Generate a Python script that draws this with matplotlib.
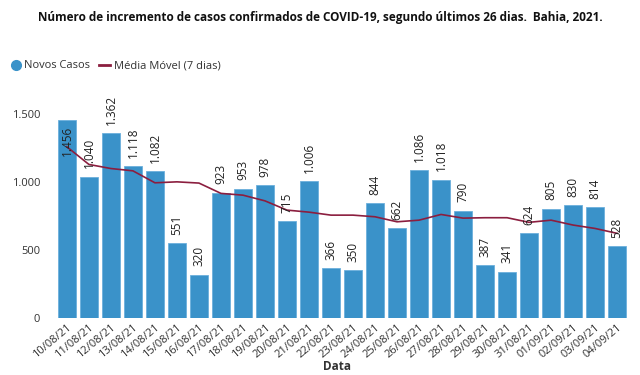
import matplotlib
matplotlib.use("Agg")
import matplotlib.pyplot as plt
from matplotlib.lines import Line2D
import numpy as np

plt.rcParams['font.family'] = ['Open Sans', 'DejaVu Sans']

datas = ["10/08/21", "11/08/21", "12/08/21", "13/08/21", "14/08/21", "15/08/21", "16/08/21",
         "17/08/21", "18/08/21", "19/08/21", "20/08/21", "21/08/21", "22/08/21", "23/08/21",
         "24/08/21", "25/08/21", "26/08/21", "27/08/21", "28/08/21", "29/08/21", "30/08/21",
         "31/08/21", "01/09/21", "02/09/21", "03/09/21", "04/09/21"]
novos_casos = [1456, 1040, 1362, 1118, 1082, 551, 320, 923, 953, 978, 715, 1006, 366, 350,
               844, 662, 1086, 1018, 790, 387, 341, 624, 805, 830, 814, 528]
media_movel = [1260, 1130, 1100, 1083, 995, 1002, 993, 917, 904, 862, 794, 779, 757, 757,
               745, 708, 720, 762, 735, 738, 738, 704, 720, 684, 659, 623]

def fmt(v):
    return f"{v:,}".replace(",", ".")

W, H = 640, 375
fig = plt.figure(figsize=(6.4, 3.75), dpi=100)
ax = fig.add_axes([57 / W, 1 - 318 / H, (627 - 57) / W, (318 - 87) / H])

x = np.arange(len(datas))
bar_color = "#3a92c9"
line_color = "#8b1e3f"
ax.bar(x, novos_casos, width=0.82, color=bar_color, edgecolor="#6cb0dc", linewidth=0.6, zorder=2)
ax.plot(x, media_movel, color=line_color, linewidth=1.2, zorder=3)

for xi, v in zip(x, novos_casos):
    if v > 1400:
        ax.annotate(fmt(v), (xi, v), xytext=(0, -4), textcoords="offset points",
                    rotation=90, ha="center", va="top", fontsize=8.5, color="#222222", zorder=4)
    else:
        ax.annotate(fmt(v), (xi, v), xytext=(0, 6), textcoords="offset points",
                    rotation=90, ha="center", va="bottom", fontsize=8.5, color="#222222", zorder=4)

ax.set_xlim(-0.45, len(datas) - 0.55)
ax.set_ylim(0, 1700)
ax.set_yticks([0, 500, 1000, 1500])
ax.set_yticklabels([fmt(v) for v in [0, 500, 1000, 1500]])
ax.set_xticks(x)
ax.set_xticklabels(datas, rotation=40, ha="right", rotation_mode="anchor")
ax.tick_params(axis="both", length=0, labelsize=8, colors="#333333")
ax.tick_params(axis="y", pad=12)
ax.tick_params(axis="x", pad=3)
for s in ax.spines.values():
    s.set_visible(False)
ax.set_xlabel("Data", fontsize=8.5, fontweight="bold", color="#333333")
ax.xaxis.set_label_coords((337 - 57) / (627 - 57), (318 - 367) / (318 - 87))
ax.xaxis.label.set_va("center")

fig.text(0.5, 1 - 18 / H, "Número de incremento de casos confirmados de COVID-19, segundo últimos 26 dias.  Bahia, 2021.",
         ha="center", va="center", fontsize=8.5, fontweight="bold", color="#111111")

handles = [Line2D([], [], marker="o", linestyle="None", markersize=7, color=bar_color),
           Line2D([], [], color=line_color, linewidth=2)]
fig.legend(handles, ["Novos Casos", "Média Móvel (7 dias)"], loc="center left",
           bbox_to_anchor=(0 / W, 1 - 66 / H), ncol=2, frameon=False, fontsize=8,
           handlelength=1.0, handletextpad=0.3, columnspacing=0.8, labelcolor="#333333")

fig.savefig("out.png", dpi=100)
